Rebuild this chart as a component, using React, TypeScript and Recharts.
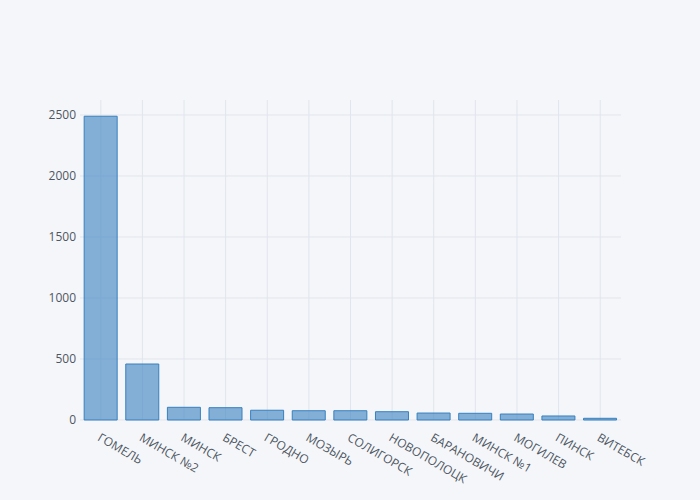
import { BarChart, Bar, XAxis, YAxis, CartesianGrid } from "recharts";

const cities = [
  "ГОМЕЛЬ",
  "МИНСК №2",
  "МИНСК",
  "БРЕСТ",
  "ГРОДНО",
  "МОЗЫРЬ",
  "СОЛИГОРСК",
  "НОВОПОЛОЦК",
  "БАРАНОВИЧИ",
  "МИНСК №1",
  "МОГИЛЕВ",
  "ПИНСК",
  "ВИТЕБСК",
];
const counts = [2490, 459, 104, 101, 80, 76, 76, 68, 57, 55, 49, 33, 14];
const yTicks = [0, 500, 1000, 1500, 2000, 2500];

const data = cities.map((name, i) => ({ name, count: counts[i] }));

const font = "'Open Sans', sans-serif";
const textColor = "#4D5663";

function CityTick(props: any) {
  const { x, y, payload } = props;
  const tx = x - 4;
  const ty = y + 12;
  return (
    <text
      x={tx}
      y={ty}
      transform={`rotate(30, ${tx}, ${ty})`}
      textAnchor="start"
      fontSize={12}
      fontFamily={font}
      fill={textColor}
    >
      {payload.value}
    </text>
  );
}

export default function App() {
  return (
    <div
      style={{
        position: "absolute",
        top: 0,
        left: 0,
        width: 700,
        height: 500,
        background: "#F5F6F9",
      }}
    >
      <BarChart
        width={700}
        height={500}
        data={data}
        margin={{ top: 100, right: 79, bottom: 0, left: 0 }}
        barCategoryGap="10%"
      >
        {/* syncWithTicks: lines only at ticks, no frame round the plot */}
        <CartesianGrid stroke="#E1E5ED" strokeWidth={1} syncWithTicks />
        <XAxis
          dataKey="name"
          interval={0}
          axisLine={false}
          tickLine={false}
          height={80}
          tick={<CityTick />}
        />
        <YAxis
          width={80}
          domain={[0, 2623]}
          ticks={yTicks}
          axisLine={false}
          tickLine={false}
          tickSize={0}
          tickMargin={4}
          tick={{ fontSize: 12, fontFamily: font, fill: textColor }}
        />
        <Bar
          dataKey="count"
          fill="rgb(55,128,191)"
          fillOpacity={0.6}
          stroke="rgb(55,128,191)"
          strokeWidth={1}
          isAnimationActive={false}
        />
      </BarChart>
    </div>
  );
}
